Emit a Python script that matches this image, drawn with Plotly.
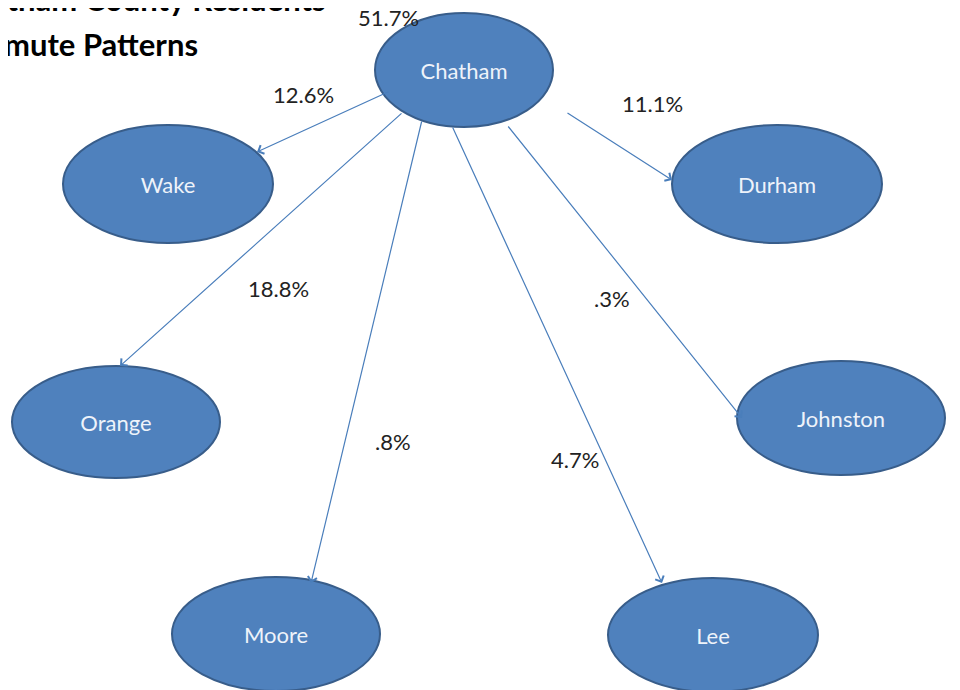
import plotly.graph_objects as go

# ---- data ----
nodes = ["Chatham", "Wake", "Durham", "Orange", "Johnston", "Moore", "Lee"]
shares = ["51.7%", "12.6%", "11.1%", "18.8%", ".3%", ".8%", "4.7%"]
title_lines = ["Chatham County Residents", "Commute Patterns"]

# ---- layout (pixel coordinates of the diagram) ----
node_x = [464, 168, 777, 116, 841, 276, 713]
node_y = [70, 184, 184, 422, 418, 634, 635]
node_rx = [89, 105, 105, 104, 104, 104, 105]
node_ry = [57, 59, 59, 56, 57, 57, 57]

# arrow start (on Chatham) and tip (on destination) for each destination
arrow_start = {"Wake": (390, 91), "Durham": (566, 112), "Orange": (403, 112),
               "Johnston": (507, 125), "Moore": (422, 120), "Lee": (452, 126)}
arrow_tip = {"Wake": (257, 152), "Durham": (672, 180), "Orange": (120, 366),
             "Johnston": (742, 418), "Moore": (311, 583), "Lee": (662, 583)}

label_pos = {"Chatham": (388, 17), "Wake": (303, 95), "Durham": (652, 104),
             "Orange": (278, 289), "Johnston": (612, 298), "Moore": (393, 441),
             "Lee": (575, 460)}

FILL = "#4f81bd"
EDGE = "#385d8a"
LINE = "#4a7ebb"
OFF = 8  # page offset of the plot div

def px(x):
    return (x - OFF) / 960.0

def py(y):
    return 1 - (y - OFF) / 690.0

fig = go.Figure()

shapes = []
for i, n in enumerate(nodes):
    shapes.append(dict(type="circle", xref="x", yref="y",
                       x0=node_x[i] - node_rx[i], x1=node_x[i] + node_rx[i],
                       y0=node_y[i] - node_ry[i], y1=node_y[i] + node_ry[i],
                       fillcolor=FILL, line=dict(color=EDGE, width=2), layer="below"))

fig.add_trace(go.Scatter(x=node_x, y=[v + 3 for v in node_y], text=nodes, mode="text",
                         textfont=dict(family="Lato", size=22, color="#eef3fa"),
                         hoverinfo="skip", showlegend=False))

annotations = []
for n in nodes[1:]:
    sx, sy = arrow_start[n]
    tx, ty = arrow_tip[n]
    annotations.append(dict(x=tx, y=ty, ax=sx, ay=sy, xref="x", yref="y",
                            axref="x", ayref="y", text="", showarrow=True,
                            arrowhead=4, arrowsize=1.5, arrowwidth=1.2,
                            arrowcolor=LINE, standoff=0, startstandoff=0))

for i, n in enumerate(nodes):
    lx, ly = label_pos[n]
    annotations.append(dict(x=px(lx), y=py(ly), xref="paper", yref="paper", text=shares[i],
                            showarrow=False, xanchor="center", yanchor="middle",
                            font=dict(family="Lato", size=22, color="#222222")))

annotations.append(dict(x=px(328), y=py(-1), xref="paper", yref="paper",
                        text="<b>" + title_lines[0] + "</b>",
                        showarrow=False, xanchor="right", yanchor="middle",
                        font=dict(family="Lato", size=31, color="#000000")))
annotations.append(dict(x=px(200), y=py(44), xref="paper", yref="paper",
                        text="<b>" + title_lines[1] + "</b>",
                        showarrow=False, xanchor="right", yanchor="middle",
                        font=dict(family="Lato", size=31, color="#000000")))

fig.update_layout(
    width=960, height=690,
    margin=dict(l=0, r=0, t=0, b=0),
    paper_bgcolor="white", plot_bgcolor="white",
    xaxis=dict(range=[OFF, 960 + OFF], visible=False, fixedrange=True),
    yaxis=dict(range=[690 + OFF, OFF], visible=False, fixedrange=True),
    shapes=shapes, annotations=annotations, showlegend=False,
)

fig.write_html("out.html")
